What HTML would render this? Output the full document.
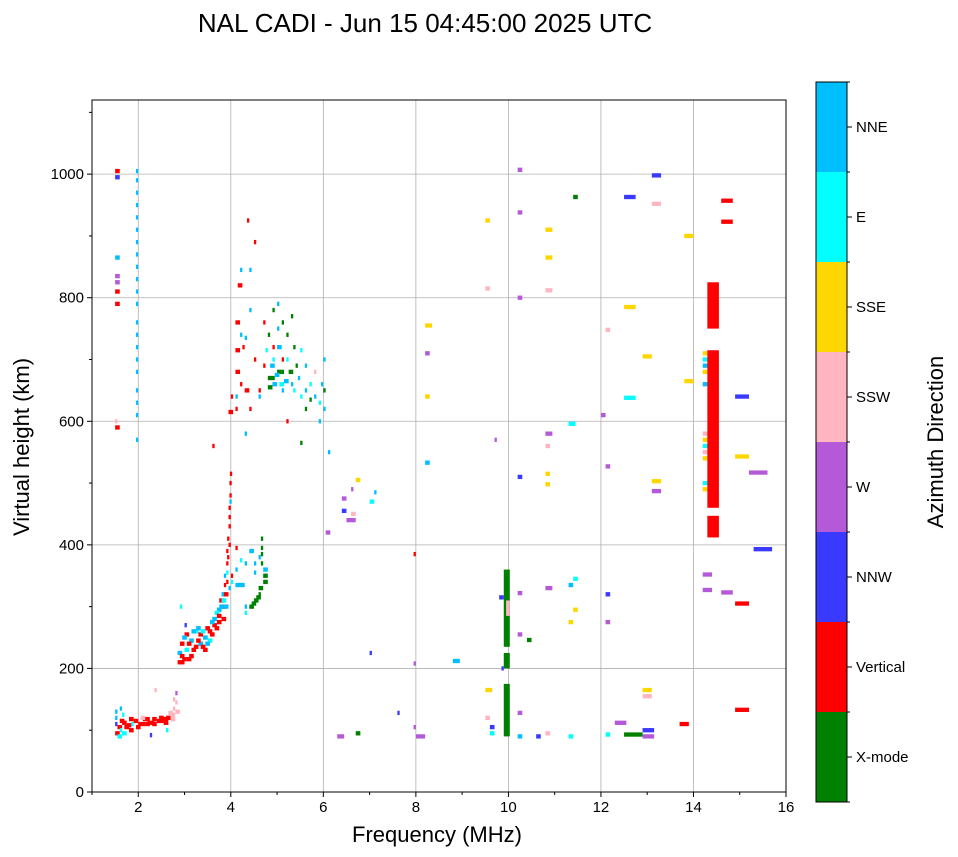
<!DOCTYPE html>
<html><head><meta charset="utf-8"><style>
body{margin:0;background:#fff;}
svg{display:block;font-family:"Liberation Sans","DejaVu Sans",sans-serif;}
</style></head><body>
<svg id="chart" width="958" height="857" viewBox="0 0 958 857">
<rect width="958" height="857" fill="#fff"/>
<text x="425" y="32" font-size="26" text-anchor="middle">NAL CADI - Jun 15 04:45:00 2025 UTC</text>
<g id="grid"></g><g id="marks"></g><g id="axes"></g><g id="cbar"></g>
<text x="437" y="842" font-size="22" text-anchor="middle">Frequency (MHz)</text>
<text transform="translate(29,447) rotate(-90)" font-size="22" text-anchor="middle">Virtual height (km)</text>
<text transform="translate(943,442) rotate(-90)" font-size="22" text-anchor="middle">Azimuth Direction</text>
</svg>
<script>
const directions=["X-mode","Vertical","NNW","W","SSW","SSE","E","NNE"];
const dirColors=["#008000","#ff0000","#3a3aff","#b45ad8","#ffb6c1","#ffd700","#00ffff","#00bfff"];
const xTicks=[2,4,6,8,10,12,14,16];
const yTicks=[0,200,400,600,800,1000];
// echoes: [frequency MHz, virtual height km, direction index, frequency span MHz]
const echoes=[
[1.5,95,1,.1],[1.55,105,1,.1],[1.6,100,6,.05],[1.65,112,1,.1],[1.7,95,6,.05],[1.75,108,1,.1],[1.8,118,1,.1],[1.85,100,4,.05],[1.9,115,1,.1],[2.0,110,1,.15],[2.1,118,1,.15],[2.2,112,1,.15],[2.3,118,1,.1],[2.4,115,1,.15],[2.5,118,1,.15],[2.6,120,1,.1],[2.7,125,4,.1],[2.75,135,4,.05],[2.8,145,4,.05],[2.8,160,3,.05],[1.5,130,7,.05],[1.5,120,7,.05],[1.65,125,6,.05],[2.25,92,2,.05],[2.35,165,4,.05],[2.6,100,6,.05],[1.5,110,2,.05],
[1.55,90,6,.1],[1.6,115,1,.1],[1.7,105,1,.1],[1.8,100,1,.1],[1.85,110,6,.05],[1.95,105,1,.1],[2.05,120,4,.1],[2.15,110,1,.1],[2.3,110,1,.1],[2.45,120,1,.1],[2.55,112,1,.1],[2.65,128,4,.1],[2.7,118,4,.1],[2.75,150,4,.05],[2.8,130,4,.1],[1.6,135,7,.05],[1.65,95,6,.05],
[2.85,210,1,.15],[2.85,225,7,.1],[2.9,240,1,.1],[2.95,215,1,.1],[3.0,230,6,.1],[3.0,255,1,.1],[3.1,220,1,.1],[3.1,245,7,.1],[3.2,235,1,.1],[3.2,260,6,.1],[3.3,240,7,.1],[3.3,255,1,.1],[3.4,250,7,.1],[3.4,230,1,.1],[3.5,260,1,.1],[3.5,245,6,.1],[3.6,270,1,.1],[3.6,280,7,.1],[3.7,275,1,.1],[3.7,295,7,.1],[3.75,310,1,.1],[3.8,320,7,.1],[3.8,300,1,.1],[3.85,335,1,.05],[3.85,350,7,.05],[3.9,370,1,.05],[3.9,390,1,.05],[3.92,410,1,.05],[3.95,430,1,.05],[3.95,460,1,.05],[3.97,480,1,.05],[3.97,500,1,.05],[3.98,515,1,.05],[2.9,300,6,.05],[3.0,270,2,.05],[3.6,560,1,.05],
[2.9,220,1,.1],[2.95,250,7,.1],[3.05,240,1,.1],[3.05,215,1,.1],[3.15,260,7,.1],[3.15,230,1,.1],[3.25,245,1,.1],[3.25,265,7,.1],[3.35,235,1,.1],[3.35,260,6,.1],[3.45,240,7,.1],[3.45,265,1,.1],[3.55,255,1,.1],[3.55,275,7,.1],[3.65,265,1,.1],[3.65,290,6,.1],[3.7,285,1,.1],[3.75,300,7,.1],[3.8,280,1,.1],[3.8,310,6,.1],[3.85,320,1,.1],[3.85,300,7,.1],[3.9,340,1,.05],[3.9,355,6,.05],[3.92,380,1,.05],[3.95,400,1,.05],[3.95,445,1,.05],[3.97,470,7,.05],[3.95,330,7,.05],
[4.1,335,7,.2],[4.1,360,7,.05],[4.3,370,7,.05],[4.4,300,0,.1],[4.5,310,0,.1],[4.6,320,0,.05],[4.7,340,0,.1],[4.7,360,7,.1],[4.65,410,0,.05],[4.65,395,0,.05],[4.4,390,7,.1],[4.6,380,7,.05],[4.5,355,7,.05],[4.3,290,6,.05],[4.0,340,6,.05],[4.3,300,7,.05],
[4.45,305,0,.1],[4.55,315,0,.1],[4.6,330,0,.1],[4.7,350,0,.1],[4.65,370,0,.05],[4.65,385,0,.05],[4.2,375,6,.05],[4.5,370,7,.05],[4.0,350,1,.05],[4.1,395,1,.05],
[3.95,615,1,.1],[4.1,620,1,.05],[4.1,640,7,.05],[4.2,660,1,.05],[4.1,680,1,.1],[4.1,715,1,.1],[4.1,760,1,.1],[4.2,740,7,.05],[4.15,820,1,.1],[4.2,845,7,.05],[4.4,845,7,.05],[4.35,925,1,.05],[4.5,890,1,.05],[4.5,700,1,.05],[4.4,780,7,.05],[4.6,640,7,.05],[4.7,690,1,.05],[4.8,670,0,.15],[4.9,660,7,.1],[4.9,700,6,.05],[5.0,680,0,.1],[5.0,720,7,.1],[5.1,650,7,.05],[5.1,680,0,.05],[5.2,700,6,.05],[5.2,740,0,.05],[5.3,660,7,.05],[5.3,770,0,.05],[4.8,740,0,.05],[4.9,780,0,.05],[5.4,690,0,.05],[5.5,640,6,.05],[5.6,620,0,.05],[5.7,660,6,.05],[5.8,640,7,.05],[5.9,600,7,.05],[6.0,700,7,.05],[6.0,650,0,.05],[5.5,715,6,.05],[4.7,760,1,.05],[4.4,620,1,.05],[4.3,580,7,.05],[5.0,790,7,.05],[4.6,650,1,.05],[5.2,600,1,.05],[5.5,565,0,.05],
[4.8,655,0,.1],[4.85,690,7,.1],[4.95,675,7,.1],[5.05,660,6,.1],[5.1,700,1,.05],[5.15,665,7,.1],[5.25,680,0,.1],[5.35,650,6,.05],[5.45,670,7,.05],[5.6,650,7,.05],[5.7,635,0,.05],[5.8,680,4,.05],[5.9,630,6,.05],[4.9,720,1,.05],[5.1,760,0,.05],[5.0,750,7,.05],[4.75,715,6,.05],[4.3,735,7,.05],[4.25,720,1,.05],[4.0,640,1,.05],[4.3,650,1,.1],[5.35,720,0,.05],[5.6,690,7,.05],[6.0,620,7,.05],[5.95,660,7,.05],
[1.5,790,1,.1],[1.5,810,1,.1],[1.5,825,3,.1],[1.5,835,3,.1],[1.5,865,7,.1],[1.5,995,2,.1],[1.5,1005,1,.1],[1.5,590,1,.1],[1.5,600,4,.05],
[1.95,570,7,.05],[1.95,610,7,.05],[1.95,630,7,.05],[1.95,650,7,.05],[1.95,680,7,.05],[1.95,700,7,.05],[1.95,720,7,.05],[1.95,740,7,.05],[1.95,760,7,.05],[1.95,790,7,.05],[1.95,810,7,.05],[1.95,830,7,.05],[1.95,850,7,.05],[1.95,870,7,.05],[1.95,890,7,.05],[1.95,910,7,.05],[1.95,930,7,.05],[1.95,950,7,.05],[1.95,970,7,.05],[1.95,990,7,.05],[1.95,1005,7,.05],
[6.05,420,3,.1],[6.1,550,7,.05],[6.3,90,3,.15],[6.4,475,3,.1],[6.4,455,2,.1],[6.5,440,3,.2],[6.6,450,4,.1],[6.6,490,3,.05],[6.7,95,0,.1],[6.7,505,5,.1],[7.0,470,6,.1],[7.1,485,7,.05],[7.0,225,2,.05],[7.6,128,2,.05],[7.95,385,1,.05],[7.95,208,3,.05],[7.95,105,3,.05],[8.0,90,3,.2],[8.2,755,5,.15],[8.2,710,3,.1],[8.2,640,5,.1],[8.2,533,7,.1],[8.8,212,7,.15],[9.5,925,5,.1],[9.5,815,4,.1],[9.5,165,5,.15],[9.5,120,4,.1],[9.6,105,2,.1],[9.6,95,6,.1],[9.7,570,3,.05],[9.8,315,2,.1],[9.85,200,2,.05],
[10.2,1007,3,.1],[10.2,938,3,.1],[10.2,800,3,.1],[10.2,510,2,.1],[10.2,322,3,.1],[10.2,255,3,.1],[10.2,128,3,.1],[10.2,90,7,.1],[10.4,246,0,.1],[10.6,90,2,.1],[10.8,910,5,.15],[10.8,865,5,.15],[10.8,812,4,.15],[10.8,580,3,.15],[10.8,560,4,.1],[10.8,515,5,.1],[10.8,498,5,.1],[10.8,330,3,.15],[10.8,95,4,.1],[11.3,596,6,.15],[11.3,335,7,.1],[11.3,275,5,.1],[11.4,345,6,.1],[11.4,295,5,.1],[11.4,963,0,.1],[11.3,90,6,.1],[12.0,610,3,.1],[12.1,748,4,.1],[12.1,527,3,.1],[12.1,320,2,.1],[12.1,275,3,.1],[12.1,93,6,.1],[12.3,112,3,.25],[12.5,963,2,.25],[12.5,785,5,.25],[12.5,638,6,.25],[12.5,93,0,.4],[12.9,705,5,.2],[12.9,165,5,.2],[12.9,155,4,.2],[12.9,100,2,.25],[12.9,90,3,.25],[13.1,998,2,.2],[13.1,952,4,.2],[13.1,503,5,.2],[13.1,487,3,.2],[13.7,110,1,.2],[13.8,900,5,.2],[13.8,665,5,.2],[14.2,700,6,.2],[14.2,680,5,.2],[14.2,660,7,.2],[14.2,580,4,.2],[14.2,560,6,.2],[14.2,540,5,.2],[14.2,500,6,.2],[14.2,490,5,.2],[14.2,352,3,.2],[14.2,327,3,.2],[14.6,957,1,.25],[14.6,923,1,.25],[14.6,323,3,.25],[14.9,640,2,.3],[14.9,543,5,.3],[14.9,305,1,.3],[14.9,133,1,.3],[15.2,517,3,.4],[15.3,393,2,.4],
[14.2,710,5,.2],[14.2,690,7,.2],[14.2,570,5,.2],[14.2,550,4,.2]
];
// bars: [freq start, freq end, height start, height end, direction index]
const bars=[[14.3,14.55,750,825,1],[14.3,14.55,460,715,1],[14.3,14.55,412,447,1],[9.9,10.03,90,175,0],[9.9,10.03,200,225,0],[9.9,10.03,235,360,0],[9.95,10.03,285,310,4]];
const echoThickness=7;

const NS="http://www.w3.org/2000/svg";
const L=92,R=786,T=100,B=792,fMin=1,fMax=16,hMin=0,hMax=1120;
const xs=f=>L+(f-fMin)/(fMax-fMin)*(R-L);
const ys=h=>B-(h-hMin)/(hMax-hMin)*(B-T);
function mk(tag,attrs,parent){const e=document.createElementNS(NS,tag);for(const k in attrs)e.setAttribute(k,attrs[k]);parent.appendChild(e);return e;}
const grid=document.getElementById('grid'),marks=document.getElementById('marks'),axes=document.getElementById('axes'),cbar=document.getElementById('cbar');
xTicks.forEach(t=>{const x=xs(t);
 const g=mk('line',{x1:x,x2:x,y1:T,y2:B,stroke:'#b0b0b0','stroke-width':0.8},grid);
 
 mk('line',{x1:x,x2:x,y1:B,y2:B+5,stroke:'#000'},axes);
 const tx=mk('text',{x:x,y:B+20,'font-size':15,'text-anchor':'middle'},axes);tx.textContent=t;
 });
for(let m=1;m<=15;m+=2){const x=xs(m);mk('line',{x1:x,x2:x,y1:B,y2:B+3,stroke:'#000'},axes);}
yTicks.forEach(t=>{const y=ys(t);
 const g=mk('line',{x1:L,x2:R,y1:y,y2:y,stroke:'#b0b0b0','stroke-width':0.8},grid);
 
 mk('line',{x1:L-5,x2:L,y1:y,y2:y,stroke:'#000'},axes);
 const tx=mk('text',{x:L-8,y:y+5,'font-size':15,'text-anchor':'end'},axes);tx.textContent=t;
 });
for(let m=100;m<=1100;m+=200){const y=ys(m);mk('line',{x1:L-3,x2:L,y1:y,y2:y,stroke:'#000'},axes);}
echoes.forEach(p=>{const x0=xs(p[0]),x1=xs(p[0]+p[3]),y0=ys(p[1]+echoThickness/2),y1=ys(p[1]-echoThickness/2);
 const r=mk('rect',{x:x0,y:y0,width:Math.max(1.5,x1-x0),height:y1-y0,fill:dirColors[p[2]]},marks);
 
 });
bars.forEach(b=>{const r=mk('rect',{x:xs(b[0]),y:ys(b[3]),width:xs(b[1])-xs(b[0]),height:ys(b[2])-ys(b[3]),fill:dirColors[b[4]]},marks);
 
 });
const fr=mk('rect',{x:L,y:T,width:R-L,height:B-T,fill:'none',stroke:'#000','stroke-width':1},axes);

const cL=816,cW=31,cT=82,cB=802,bh=(cB-cT)/directions.length;
directions.forEach((d,i)=>{const y=cB-(i+1)*bh;
 const r=mk('rect',{x:cL,y:y,width:cW,height:bh,fill:dirColors[i]},cbar);
 
 mk('line',{x1:cL+cW,x2:cL+cW+5,y1:y+bh/2,y2:y+bh/2,stroke:'#000'},cbar);
 mk('line',{x1:cL+cW,x2:cL+cW+3,y1:y,y2:y,stroke:'#000'},cbar);
 const tx=mk('text',{x:cL+cW+9,y:y+bh/2+5,'font-size':15},cbar);tx.textContent=d;
 });
mk('line',{x1:cL+cW,x2:cL+cW+3,y1:cB,y2:cB,stroke:'#000'},cbar);
mk('rect',{x:cL,y:cT,width:cW,height:cB-cT,fill:'none',stroke:'#000','stroke-width':1},cbar);
</script>
</body></html>
